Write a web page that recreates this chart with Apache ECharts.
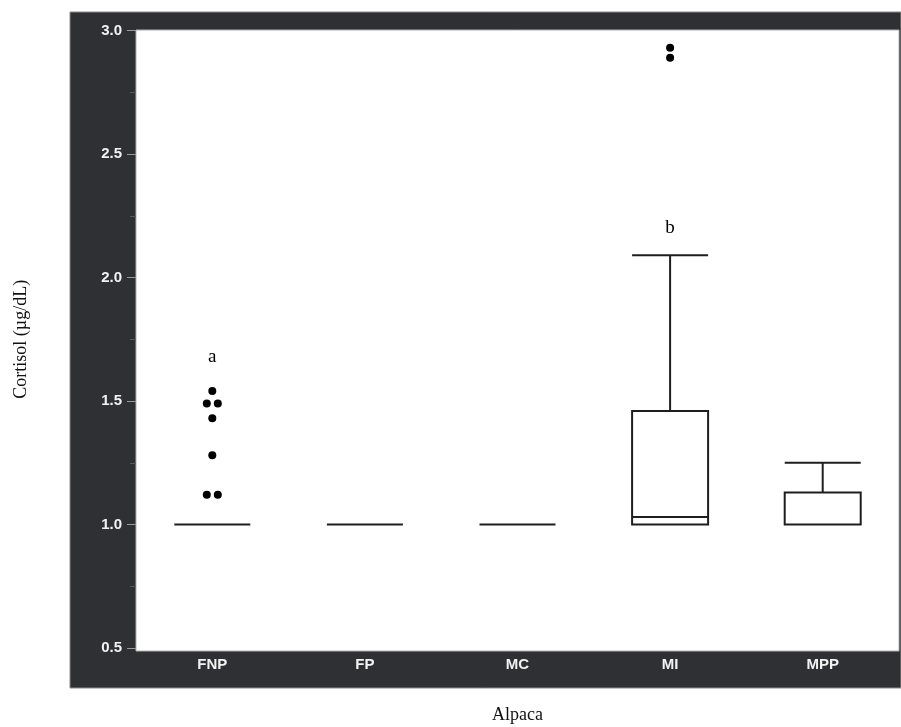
<!DOCTYPE html>
<html>
<head>
<meta charset="utf-8">
<script src="https://cdn.jsdelivr.net/npm/echarts@6/dist/echarts.min.js"></script>
<style>
html,body{margin:0;padding:0;background:#fff;}
#chart{width:901px;height:727px;}
</style>
</head>
<body>
<div id="chart"></div>
<script>
// ---- data ----
const categories = ['FNP', 'FP', 'MC', 'MI', 'MPP'];
// [min, Q1, median, Q3, max]
const boxStats = [
  [1.0, 1.0, 1.0, 1.0, 1.0],
  [1.0, 1.0, 1.0, 1.0, 1.0],
  [1.0, 1.0, 1.0, 1.0, 1.0],
  [1.0, 1.0, 1.03, 1.46, 2.09],
  [1.0, 1.0, 1.0, 1.13, 1.25]
];
const outlierCats = ['FNP', 'FNP', 'FNP', 'FNP', 'FNP', 'FNP', 'FNP', 'MI', 'MI'];
const outlierVals = [1.54, 1.49, 1.49, 1.43, 1.28, 1.12, 1.12, 2.93, 2.89];
const letterCats = ['FNP', 'MI'];
const letterTexts = ['a', 'b'];
const letterVals = [1.68, 2.2];
const yTicks = { min: 0.5, max: 3.0, step: 0.5 };

// ---- build outlier items (side-by-side for tied values) ----
const outlierItems = [];
const seen = {};
outlierVals.forEach((v, i) => {
  const key = outlierCats[i] + '|' + v;
  const count = outlierVals.filter((w, j) => outlierCats[j] === outlierCats[i] && w === v).length;
  seen[key] = (seen[key] || 0) + 1;
  const item = { value: [outlierCats[i], v] };
  if (count > 1) item.symbolOffset = [seen[key] === 1 ? -5.5 : 5.5, 0];
  outlierItems.push(item);
});

const chart = echarts.init(document.getElementById('chart'), null, { renderer: 'canvas' });
const lineColor = '#1e1e1e';
chart.setOption({
  backgroundColor: '#fff',
  animation: false,
  graphic: [
    { type: 'rect', z: -10, shape: { x: 70, y: 12, width: 831, height: 676 }, style: { fill: '#2f3034', stroke: '#8a8a8a', lineWidth: 1 } },
    { type: 'rect', z: -9, shape: { x: 136, y: 30, width: 763, height: 621 }, style: { fill: '#fff', stroke: '#b0b0b0', lineWidth: 1 } }
  ],
  grid: { left: 136, right: 2, top: 30.5, bottom: 79, containLabel: false, outerBoundsMode: 'none' },
  xAxis: {
    type: 'category',
    data: categories,
    boundaryGap: true,
    axisLine: { show: false },
    axisTick: { show: false },
    axisLabel: { color: '#f2f2f2', fontWeight: 'bold', fontFamily: 'Liberation Sans, Arial', fontSize: 15, margin: 9 },
    name: 'Alpaca',
    nameLocation: 'middle',
    nameGap: 58,
    nameTextStyle: { color: '#111', fontFamily: 'Liberation Serif, Times New Roman, serif', fontSize: 18 }
  },
  yAxis: {
    type: 'value',
    min: yTicks.min,
    max: yTicks.max,
    interval: yTicks.step,
    splitLine: { show: false },
    axisLine: { show: false },
    axisTick: { show: true, length: 9, lineStyle: { color: '#9a9a9a', width: 1 } },
    minorTick: { show: true, splitNumber: 2, length: 6, lineStyle: { color: '#5a5b5f', width: 1 } },
    axisLabel: { color: '#f2f2f2', fontWeight: 'bold', fontFamily: 'Liberation Sans, Arial', fontSize: 15, margin: 14,
      formatter: v => v.toFixed(1) },
    name: 'Cortisol (µg/dL)',
    nameLocation: 'middle',
    nameRotate: 90,
    nameGap: 106,
    nameTextStyle: { color: '#111', fontFamily: 'Liberation Serif, Times New Roman, serif', fontSize: 18 }
  },
  series: [
    {
      type: 'boxplot',
      data: boxStats,
      boxWidth: [76, 76],
      itemStyle: { color: 'rgba(255,255,255,0)', borderColor: lineColor, borderWidth: 2 },
      emphasis: { disabled: true }
    },
    {
      type: 'scatter',
      data: outlierItems,
      symbol: 'circle',
      symbolSize: 8,
      itemStyle: { color: '#000', opacity: 1 },
      emphasis: { disabled: true },
      z: 5
    },
    {
      type: 'scatter',
      data: letterVals.map((v, i) => ({ value: [letterCats[i], v], name: letterTexts[i] })),
      symbolSize: 0,
      itemStyle: { opacity: 1 },
      label: { show: true, position: 'inside', formatter: p => p.name, color: '#000',
        fontFamily: 'Liberation Serif, Times New Roman, serif', fontSize: 19 },
      emphasis: { disabled: true },
      z: 6
    }
  ]
});
</script>
</body>
</html>
